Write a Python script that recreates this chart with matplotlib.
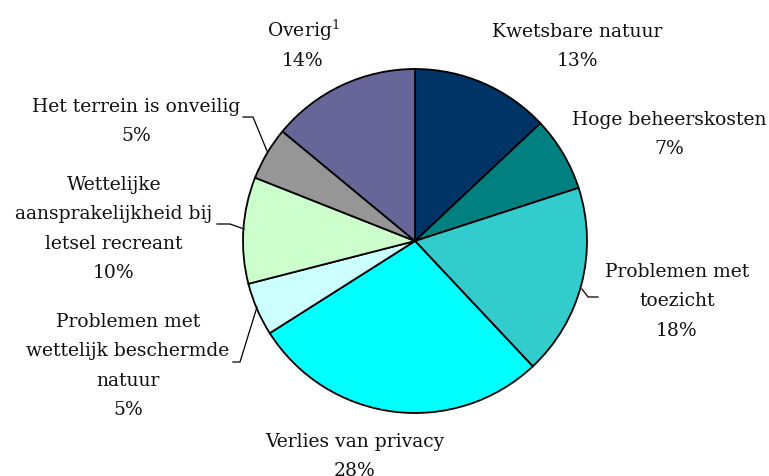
import matplotlib
matplotlib.use("Agg")
import matplotlib.pyplot as plt

# ---- Data ----
labels = ["Kwetsbare natuur", "Hoge beheerskosten", "Problemen met\ntoezicht",
          "Verlies van privacy", "Problemen met\nwettelijk beschermde\nnatuur",
          "Wettelijke\naansprakelijkheid bij\nletsel recreant",
          "Het terrein is onveilig", r"Overig$^{\mathrm{1}}$"]
percentages = [13, 7, 18, 28, 5, 10, 5, 14]
colors = ["#003366", "#008080", "#33CCCC", "#00FFFF", "#CCFFFF",
          "#CCFFCC", "#969696", "#666699"]

# label centre x and first-line baseline y, in pixels
label_pos = [(577, 37), (669, 125), (677, 277), (355, 447),
             (128, 327), (114, 190), (136, 112), (303, 37)]

plt.rcParams['font.family'] = ['DejaVu Serif']
plt.rcParams['mathtext.fontset'] = 'dejavuserif'

W, H = 769, 477
CX, CY, R = 415, 242, 172


def px(x, y):
    # pixel -> data units (pie radius = 1)
    return (x - CX) / R, (CY - y) / R


fig = plt.figure(figsize=(W / 100, H / 100), dpi=100)
ax = fig.add_axes([0, 0, 1, 1])
ax.pie(percentages, colors=colors, startangle=90, counterclock=False, radius=1,
       wedgeprops=dict(edgecolor="black", linewidth=1.3))
ax.set_xlim(px(0, 0)[0], px(W, 0)[0])
ax.set_ylim(px(0, H)[1], px(0, 0)[1])
ax.set_aspect('auto')
ax.axis('off')

line_h = 29.4
for lab, pct, (x, y) in zip(labels, percentages, label_pos):
    lines = lab.split("\n") + [str(pct) + "%"]
    for i, ln in enumerate(lines):
        tx, ty = px(x, y + i * line_h)
        ax.text(tx, ty, ln, ha="center", va="baseline", fontsize=13.5,
                color="#111111")

# leader lines
leaders = [
    [(243, 118), (253, 118), (267, 152)],
    [(217, 225), (230, 225), (244, 230)],
    [(233, 363), (240, 363), (257, 308)],
    [(582, 290), (588, 298), (598, 298)],
]
for pts in leaders:
    xs, ys = zip(*[px(a, b) for a, b in pts])
    ax.plot(xs, ys, color="black", linewidth=0.9)

fig.savefig("out.png", dpi=100)
